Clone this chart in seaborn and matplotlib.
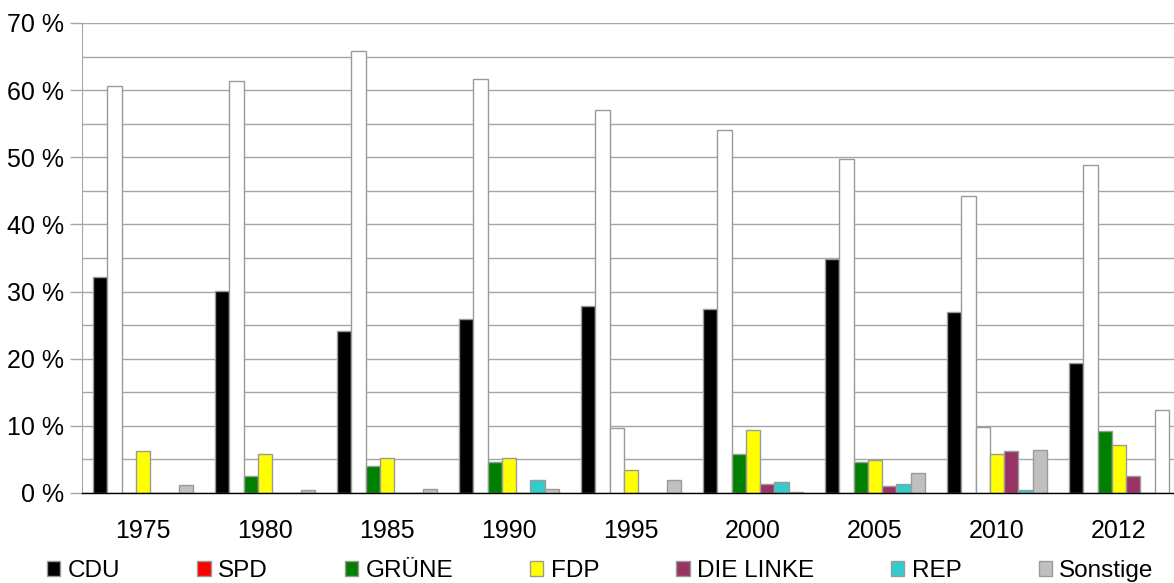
import matplotlib
matplotlib.use("Agg")
import matplotlib.pyplot as plt
import seaborn as sns
import pandas as pd
from matplotlib.patches import Patch
from matplotlib.ticker import MultipleLocator, FixedLocator

# --- data ---
years = ["1975", "1980", "1985", "1990", "1995", "2000", "2005", "2010", "2012"]
parties = ["CDU", "SPD", "GRÜNE", "FDP", "DIE LINKE", "REP", "Sonstige"]

cdu = [32.1, 30.1, 24.1, 25.9, 27.9, 27.4, 34.8, 26.9, 19.3]
spd = [60.6, 61.3, 65.8, 61.6, 57.0, 54.1, 49.8, 44.2, 48.9]
gruene = [0.0, 2.5, 4.0, 4.6, 9.7, 5.8, 4.6, 9.9, 9.3]
fdp = [6.2, 5.8, 5.2, 5.2, 3.4, 9.4, 4.9, 5.8, 7.2]
linke = [0.0, 0.0, 0.0, 0.0, 0.0, 1.3, 1.1, 6.2, 2.5]
rep = [0.0, 0.0, 0.0, 2.0, 0.0, 1.6, 1.4, 0.4, 0.0]
sonstige = [1.2, 0.4, 0.6, 0.6, 2.0, 0.2, 3.0, 6.4, 12.3]

colors = ["#000000", "#ff0000", "#008000", "#ffff00", "#993366", "#33cccc", "#c0c0c0"]
EDGE = "#9a9a9a"

# bars drawn without fill in the original chart
hollow = [("SPD", y) for y in years] + [("GRÜNE", "1995"), ("GRÜNE", "2010"), ("Sonstige", "2012")]

series = [cdu, spd, gruene, fdp, linke, rep, sonstige]
df = pd.DataFrame({
    "year": [y for vals in series for y in years],
    "party": [p for p, vals in zip(parties, series) for _ in vals],
    "value": [v for vals in series for v in vals],
})

sns.set_style("white")
plt.rcParams["font.family"] = ["Liberation Sans", "DejaVu Sans"]
plt.rcParams["text.color"] = "black"
plt.rcParams["xtick.color"] = "black"
plt.rcParams["ytick.color"] = "black"

fig = plt.figure(figsize=(11.74, 5.83), dpi=100)
ax = fig.add_axes([82 / 1174, 90 / 583, 1098 / 1174, 470 / 583])

sns.barplot(data=df, x="year", y="value", hue="party", order=years,
            hue_order=parties, palette=colors, saturation=1, width=0.82,
            edgecolor=EDGE, linewidth=1, legend=False, ax=ax)

for p, cont in zip(parties, ax.containers):
    for y, bar in zip(years, cont):
        if (p, y) in hollow:
            bar.set_facecolor("white")

ax.set_ylim(0, 70)
ax.set_xlim(-0.5, len(years) - 0.5)
ax.yaxis.set_major_locator(MultipleLocator(10))
ax.yaxis.set_minor_locator(MultipleLocator(5))
ax.set_yticklabels([f"{int(v)} %" for v in ax.get_yticks()])
ax.grid(True, which="both", axis="y", color="#a6a6a6", linewidth=1)
ax.set_axisbelow(True)

ax.xaxis.set_minor_locator(FixedLocator([i - 0.5 for i in range(len(years) + 1)]))
ax.tick_params(axis="x", which="major", length=0, pad=19, labelsize=18, labelcolor="black")
ax.tick_params(axis="x", which="minor", length=8, width=1, color="black", direction="out")
ax.tick_params(axis="y", which="major", length=9, width=1, color="#a6a6a6", pad=4,
               labelsize=18, labelcolor="black", left=True)
ax.tick_params(axis="y", which="minor", length=0)

ax.set_xlabel("")
ax.set_ylabel("")
for s in ["top", "right"]:
    ax.spines[s].set_visible(False)
ax.spines["left"].set_color("#a6a6a6")
ax.spines["bottom"].set_color("black")
ax.spines["bottom"].set_linewidth(1)

handles = [Patch(facecolor=c, edgecolor=EDGE, label=p) for p, c in zip(parties, colors)]
fig.legend(handles=handles, loc="center left", bbox_to_anchor=(47 / 1174, 12 / 583),
           ncol=7, frameon=False, fontsize=17.5, handlelength=0.55, handleheight=0.55,
           handletextpad=0.3, columnspacing=3.17, borderpad=0, borderaxespad=0)

fig.savefig("out.png", dpi=100)
